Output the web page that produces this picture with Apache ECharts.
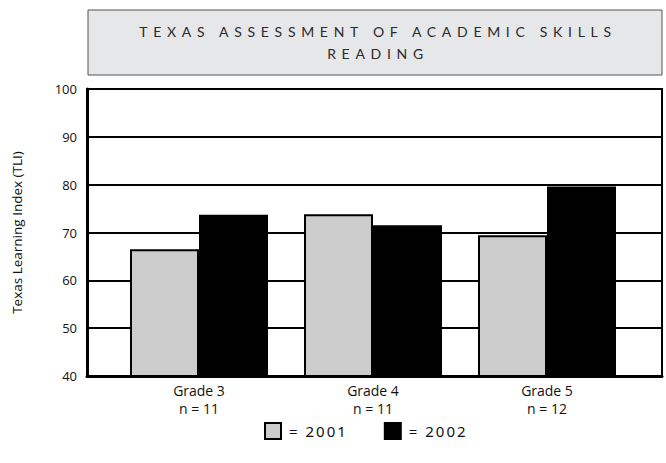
<!DOCTYPE html>
<html>
<head>
<meta charset="utf-8">
<script src="https://cdn.jsdelivr.net/npm/echarts@6/dist/echarts.min.js"></script>
<style>
  html, body { margin: 0; padding: 0; background: #fff; }
  #main { width: 666px; height: 463px; }
  /* spaced capitals for the title and the legend (svg renderer) */
  #main text[style*="Lato"] { letter-spacing: 5.7px; }
  #main text[style*="Noto Sans"] { letter-spacing: 2px; }
</style>
</head>
<body>
<div id="main"></div>
<script>
var categories = ['Grade 3\nn = 11', 'Grade 4\nn = 11', 'Grade 5\nn = 12'];
var years = ['2001', '2002'];
var tli2001 = [66.5, 73.8, 69.4];
var tli2002 = [73.7, 71.5, 79.6];
var yTicks = [40, 50, 60, 70, 80, 90, 100];

var myChart = echarts.init(document.getElementById('main'), null, { renderer: 'svg' });

var font = '"Open Sans", sans-serif';

option = {
    backgroundColor: '#fff',
    animation: false,
    graphic: [
        {
            type: 'rect',
            shape: { x: 88, y: 10, width: 574, height: 65 },
            style: { fill: '#e6e7e9', stroke: '#555', lineWidth: 1 }
        },
        {
            type: 'text',
            x: 378,
            y: 42,
            style: {
                text: 'TEXAS ASSESSMENT OF ACADEMIC SKILLS\nREADING',
                fontFamily: 'Lato',
                fontSize: 14,
                lineHeight: 22,
                fill: '#2a2a2a',
                align: 'center',
                verticalAlign: 'middle'
            }
        }
    ],
    legend: {
        data: years,
        left: 259,
        top: 417,
        icon: 'rect',
        itemWidth: 16,
        itemHeight: 16,
        itemGap: 48,
        formatter: '= {name}',
        textStyle: { fontFamily: 'Noto Sans', fontSize: 15, color: '#111', padding: [0, 0, 0, 3] }
    },
    grid: [
        { left: 87, right: 4, top: 89, bottom: 87, show: true, borderColor: '#000', borderWidth: 2 },
        { left: 112, right: 32, top: 89, bottom: 87 }
    ],
    xAxis: [
        {
            gridIndex: 0,
            type: 'value',
            min: 0,
            max: 1,
            axisLine: { show: true, onZero: false, lineStyle: { color: '#000', width: 3 } },
            axisTick: { show: false },
            axisLabel: { show: false },
            splitLine: { show: false }
        },
        {
            gridIndex: 1,
            type: 'category',
            data: categories,
            axisLine: { show: false },
            axisTick: { show: false },
            axisLabel: {
                margin: 5,
                fontFamily: font,
                fontSize: 14,
                lineHeight: 18,
                color: '#111'
            }
        }
    ],
    yAxis: [
        {
            gridIndex: 0,
            type: 'value',
            min: yTicks[0],
            max: yTicks[yTicks.length - 1],
            interval: 10,
            name: 'Texas Learning Index (TLI)',
            nameLocation: 'middle',
            nameGap: 63,
            nameTextStyle: { fontFamily: font, fontSize: 13.5, color: '#111' },
            axisLine: { show: true, lineStyle: { color: '#000', width: 3 } },
            axisTick: { show: false },
            axisLabel: { margin: 10, fontFamily: font, fontSize: 13, color: '#111' },
            splitLine: { show: true, lineStyle: { color: '#000', width: 2 } }
        },
        {
            gridIndex: 1,
            type: 'value',
            min: yTicks[0],
            max: yTicks[yTicks.length - 1],
            show: false,
            splitLine: { show: false }
        }
    ],
    series: [
        {
            name: years[0],
            type: 'bar',
            xAxisIndex: 1,
            yAxisIndex: 1,
            barWidth: 69,
            barGap: '0%',
            data: tli2001,
            itemStyle: { color: '#cccccc', borderColor: '#000', borderWidth: 2 }
        },
        {
            name: years[1],
            type: 'bar',
            xAxisIndex: 1,
            yAxisIndex: 1,
            barWidth: 69,
            barGap: '0%',
            data: tli2002,
            itemStyle: { color: '#000', borderColor: '#000', borderWidth: 2 }
        }
    ]
};

myChart.setOption(option);
</script>
</body>
</html>
